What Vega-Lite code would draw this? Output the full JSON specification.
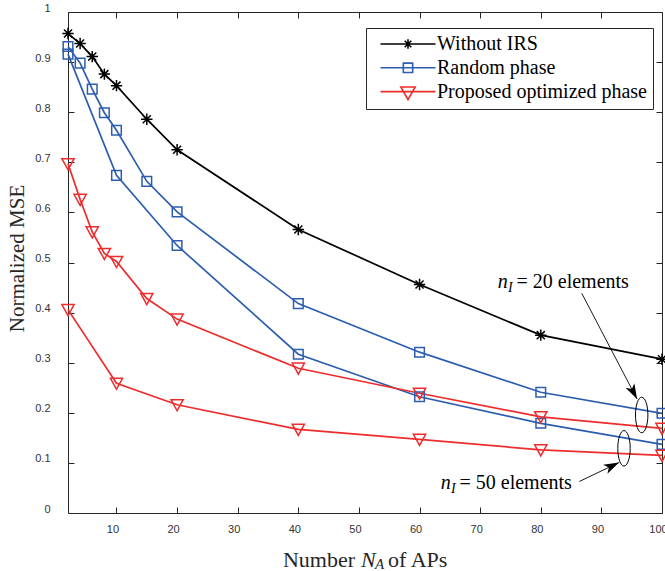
{
  "$schema": "https://vega.github.io/schema/vega-lite/v6.json",
  "width": 594,
  "height": 501,
  "autosize": {"type": "none"},
  "padding": {"left": 68, "top": 12, "right": 3, "bottom": 58},
  "background": "white",
  "config": {
    "view": {"stroke": "#262626", "strokeWidth": 1},
    "axis": {"grid": false, "domain": false}
  },
  "datasets": {
    "series": [
      {"method": "Without IRS", "n": "0", "x": 2, "y": 0.957},
      {"method": "Without IRS", "n": "0", "x": 4, "y": 0.937},
      {"method": "Without IRS", "n": "0", "x": 6, "y": 0.911},
      {"method": "Without IRS", "n": "0", "x": 8, "y": 0.876},
      {"method": "Without IRS", "n": "0", "x": 10, "y": 0.853},
      {"method": "Without IRS", "n": "0", "x": 15, "y": 0.786},
      {"method": "Without IRS", "n": "0", "x": 20, "y": 0.725},
      {"method": "Without IRS", "n": "0", "x": 40, "y": 0.566},
      {"method": "Without IRS", "n": "0", "x": 60, "y": 0.456},
      {"method": "Without IRS", "n": "0", "x": 80, "y": 0.355},
      {"method": "Without IRS", "n": "0", "x": 100, "y": 0.307},
      {"method": "Random phase", "n": "20", "x": 2, "y": 0.931},
      {"method": "Random phase", "n": "20", "x": 4, "y": 0.898},
      {"method": "Random phase", "n": "20", "x": 6, "y": 0.846},
      {"method": "Random phase", "n": "20", "x": 8, "y": 0.799},
      {"method": "Random phase", "n": "20", "x": 10, "y": 0.764},
      {"method": "Random phase", "n": "20", "x": 15, "y": 0.662},
      {"method": "Random phase", "n": "20", "x": 20, "y": 0.601},
      {"method": "Random phase", "n": "20", "x": 40, "y": 0.418},
      {"method": "Random phase", "n": "20", "x": 60, "y": 0.321},
      {"method": "Random phase", "n": "20", "x": 80, "y": 0.241},
      {"method": "Random phase", "n": "20", "x": 100, "y": 0.199},
      {"method": "Random phase", "n": "50", "x": 2, "y": 0.916},
      {"method": "Random phase", "n": "50", "x": 10, "y": 0.674},
      {"method": "Random phase", "n": "50", "x": 20, "y": 0.534},
      {"method": "Random phase", "n": "50", "x": 40, "y": 0.317},
      {"method": "Random phase", "n": "50", "x": 60, "y": 0.232},
      {"method": "Random phase", "n": "50", "x": 80, "y": 0.179},
      {"method": "Random phase", "n": "50", "x": 100, "y": 0.137},
      {"method": "Proposed optimized phase", "n": "20", "x": 2, "y": 0.697},
      {"method": "Proposed optimized phase", "n": "20", "x": 4, "y": 0.626},
      {"method": "Proposed optimized phase", "n": "20", "x": 6, "y": 0.561},
      {"method": "Proposed optimized phase", "n": "20", "x": 8, "y": 0.518},
      {"method": "Proposed optimized phase", "n": "20", "x": 10, "y": 0.502},
      {"method": "Proposed optimized phase", "n": "20", "x": 15, "y": 0.428},
      {"method": "Proposed optimized phase", "n": "20", "x": 20, "y": 0.387},
      {"method": "Proposed optimized phase", "n": "20", "x": 40, "y": 0.289},
      {"method": "Proposed optimized phase", "n": "20", "x": 60, "y": 0.239},
      {"method": "Proposed optimized phase", "n": "20", "x": 80, "y": 0.192},
      {"method": "Proposed optimized phase", "n": "20", "x": 100, "y": 0.169},
      {"method": "Proposed optimized phase", "n": "50", "x": 2, "y": 0.406},
      {"method": "Proposed optimized phase", "n": "50", "x": 10, "y": 0.259},
      {"method": "Proposed optimized phase", "n": "50", "x": 20, "y": 0.216},
      {"method": "Proposed optimized phase", "n": "50", "x": 40, "y": 0.167},
      {"method": "Proposed optimized phase", "n": "50", "x": 60, "y": 0.147},
      {"method": "Proposed optimized phase", "n": "50", "x": 80, "y": 0.126},
      {"method": "Proposed optimized phase", "n": "50", "x": 100, "y": 0.115}
    ],
    "ellipses": [
      {"group": "n20", "x": 96.65, "y": 0.1956},
      {"group": "n50", "x": 93.73, "y": 0.1291}
    ],
    "arrows": [
      {"id": "a20", "x": 86.76, "y": 0.4385, "x2": 95.88, "y2": 0.2275},
      {"id": "a50", "x": 86.36, "y": 0.0629, "x2": 92.91, "y2": 0.1008}
    ],
    "labels": [
      {"part": "n", "text": "n", "x": 72.9, "y": 0.4491},
      {"part": "sub", "text": "I", "x": 74.6, "y": 0.4411},
      {"part": "rest", "text": "= 20 elements", "x": 76.0, "y": 0.4491},
      {"part": "n", "text": "n", "x": 63.49, "y": 0.0473},
      {"part": "sub", "text": "I", "x": 65.19, "y": 0.0393},
      {"part": "rest", "text": "= 50 elements", "x": 66.59, "y": 0.0473},
      {"part": "xt", "text": "Number", "x": 49.35, "y": -0.1072},
      {"part": "xi", "text": "N", "x": 50.34, "y": -0.1072},
      {"part": "xs", "text": "A", "x": 52.65, "y": -0.1122},
      {"part": "xr", "text": "of APs", "x": 54.8, "y": -0.1072}
    ]
  },
  "layer": [
    {
      "data": {"name": "series"},
      "mark": {"type": "line", "strokeWidth": 1.7},
      "encoding": {
        "x": {"field": "x", "type": "quantitative", "scale": {"domain": [2, 100], "nice": false, "zero": false},
          "axis": {"orient": "bottom", "values": [10, 20, 30, 40, 50, 60, 70, 80, 90, 100], "title": null,
            "labelFont": "Liberation Sans", "labelFontSize": 11, "labelColor": "#333333", "tickSize": -6,
            "tickColor": "#262626", "tickWidth": 1, "labelPadding": 16, "labelOffset": -4, "labelFlush": false, "labelOverlap": false}},
        "y": {"field": "y", "type": "quantitative", "scale": {"domain": [0, 1], "nice": false, "zero": false},
          "axis": {"orient": "left", "values": [0, 0.1, 0.2, 0.3, 0.4, 0.5, 0.6, 0.7, 0.8, 0.9, 1], "format": "~g",
            "title": "Normalized MSE", "titleFont": "Liberation Serif", "titleFontSize": 21, "titleFontWeight": "normal",
            "titleColor": "#262626", "titleX": -45, "titleY": 246, "titleAngle": -90, "titleAlign": "center", "titleBaseline": "alphabetic",
            "labelFont": "Liberation Sans", "labelFontSize": 11, "labelColor": "#333333", "tickSize": -6,
            "tickColor": "#262626", "tickWidth": 1, "labelPadding": 24, "labelOffset": -4, "labelFlush": false, "labelOverlap": false}},
        "stroke": {"field": "method", "type": "nominal",
          "scale": {"domain": ["Without IRS", "Random phase", "Proposed optimized phase"], "range": ["#000000", "#2C5DAE", "#EE2C2C"]},
          "legend": null},
        "detail": {"field": "n"}
      }
    },
    {
      "data": {"name": "series"},
      "mark": {"type": "point", "filled": false, "size": 144, "strokeWidth": 1.5, "opacity": 1},
      "encoding": {
        "x": {"field": "x", "type": "quantitative",
          "axis": {"orient": "top", "values": [10, 20, 30, 40, 50, 60, 70, 80, 90, 100], "title": null, "labels": false,
            "tickSize": -6, "tickColor": "#262626", "tickWidth": 1}},
        "y": {"field": "y", "type": "quantitative",
          "axis": {"orient": "right", "values": [0, 0.1, 0.2, 0.3, 0.4, 0.5, 0.6, 0.7, 0.8, 0.9, 1], "title": null, "labels": false,
            "tickSize": -6, "tickColor": "#262626", "tickWidth": 1}},
        "stroke": {"field": "method", "type": "nominal",
          "scale": {"domain": ["Without IRS", "Random phase", "Proposed optimized phase"], "range": ["#000000", "#2C5DAE", "#EE2C2C"]},
          "legend": null},
        "shape": {"field": "method", "type": "nominal",
          "scale": {"domain": ["Without IRS", "Random phase", "Proposed optimized phase"],
            "range": ["M0,-0.95L0,0.95M-0.95,0L0.95,0M-0.67,-0.67L0.67,0.67M-0.67,0.67L0.67,-0.67",
                      "M-0.8,-0.8L0.8,-0.8L0.8,0.8L-0.8,0.8Z",
                      "M-1.02,-0.85L1.02,-0.85L0,1Z"]},
          "legend": null}
      }
    },
    {
      "data": {"name": "series"},
      "mark": {"type": "point", "filled": false, "size": 0, "strokeWidth": 1.6, "opacity": 1},
      "encoding": {
        "x": {"field": "x", "type": "quantitative", "axis": null},
        "y": {"field": "y", "type": "quantitative", "axis": null},
        "stroke": {"field": "method", "type": "nominal",
          "scale": {"domain": ["Without IRS", "Random phase", "Proposed optimized phase"], "range": ["#000000", "#2C5DAE", "#EE2C2C"]},
          "legend": {"orient": "none", "legendX": 298, "legendY": 16, "title": null, "padding": 6, "symbolSize": 121,
            "symbolStrokeWidth": 1.6, "symbolOffset": 26, "labelOffset": 19, "labelFont": "Liberation Serif", "labelFontSize": 20,
            "labelColor": "#000000", "labelLimit": 0, "rowPadding": 3.8, "strokeColor": "#262626", "fillColor": "#ffffff", "symbolOpacity": 1,
            "symbolFillColor": "transparent"}},
        "shape": {"field": "method", "type": "nominal",
          "scale": {"domain": ["Without IRS", "Random phase", "Proposed optimized phase"],
            "range": ["M-5,0L5,0M0,-0.85L0,0.85M-0.85,0L0.85,0M-0.6,-0.6L0.6,0.6M-0.6,0.6L0.6,-0.6",
                      "M-5,0L5,0M-0.85,-0.85L0.85,-0.85L0.85,0.85L-0.85,0.85Z",
                      "M-5,0L5,0M-1.3,-0.85L1.3,-0.85L0,1.45Z"]},
          "legend": {"orient": "none", "legendX": 298, "legendY": 16, "title": null, "padding": 6, "symbolSize": 121,
            "symbolStrokeWidth": 1.6, "symbolOffset": 26, "labelOffset": 19, "labelFont": "Liberation Serif", "labelFontSize": 20,
            "labelColor": "#000000", "labelLimit": 0, "rowPadding": 3.8, "strokeColor": "#262626", "fillColor": "#ffffff", "symbolOpacity": 1,
            "symbolFillColor": "transparent"}}
      }
    },
    {
      "data": {"name": "ellipses"},
      "mark": {"type": "point", "filled": false, "stroke": "#000000", "strokeWidth": 1, "opacity": 1, "size": 1260,
        "shape": "M0,-1C0.1933,-1 0.35,-0.5523 0.35,0C0.35,0.5523 0.1933,1 0,1C-0.1933,1 -0.35,0.5523 -0.35,0C-0.35,-0.5523 -0.1933,-1 0,-1Z"},
      "encoding": {
        "x": {"field": "x", "type": "quantitative", "axis": null},
        "y": {"field": "y", "type": "quantitative", "axis": null}
      }
    },
    {
      "data": {"name": "arrows"},
      "mark": {"type": "rule", "stroke": "#000000", "strokeWidth": 0.9},
      "encoding": {
        "x": {"field": "x", "type": "quantitative", "axis": null},
        "y": {"field": "y", "type": "quantitative", "axis": null},
        "x2": {"field": "x2"},
        "y2": {"field": "y2"}
      }
    },
    {
      "data": {"name": "arrows"},
      "transform": [{"filter": "datum.id === 'a20'"}],
      "mark": {"type": "point", "filled": true, "fill": "#000000", "stroke": null, "opacity": 1, "size": 324, "angle": 152.5,
        "shape": "M0,0L-0.55,1.7L0,1.25L0.55,1.7Z"},
      "encoding": {
        "x": {"field": "x2", "type": "quantitative", "axis": null},
        "y": {"field": "y2", "type": "quantitative", "axis": null}
      }
    },
    {
      "data": {"name": "arrows"},
      "transform": [{"filter": "datum.id === 'a50'"}],
      "mark": {"type": "point", "filled": true, "fill": "#000000", "stroke": null, "opacity": 1, "size": 324, "angle": 64.1,
        "shape": "M0,0L-0.55,1.7L0,1.25L0.55,1.7Z"},
      "encoding": {
        "x": {"field": "x2", "type": "quantitative", "axis": null},
        "y": {"field": "y2", "type": "quantitative", "axis": null}
      }
    },
    {
      "data": {"name": "labels"},
      "transform": [{"filter": "datum.part === 'n'"}],
      "mark": {"type": "text", "align": "left", "baseline": "alphabetic", "font": "Liberation Serif", "fontSize": 20, "fontStyle": "italic", "color": "#000000"},
      "encoding": {
        "x": {"field": "x", "type": "quantitative", "axis": null},
        "y": {"field": "y", "type": "quantitative", "axis": null},
        "text": {"field": "text"}
      }
    },
    {
      "data": {"name": "labels"},
      "transform": [{"filter": "datum.part === 'sub'"}],
      "mark": {"type": "text", "align": "left", "baseline": "alphabetic", "font": "Liberation Serif", "fontSize": 14, "fontStyle": "italic", "color": "#000000"},
      "encoding": {
        "x": {"field": "x", "type": "quantitative", "axis": null},
        "y": {"field": "y", "type": "quantitative", "axis": null},
        "text": {"field": "text"}
      }
    },
    {
      "data": {"name": "labels"},
      "transform": [{"filter": "datum.part === 'rest'"}],
      "mark": {"type": "text", "align": "left", "baseline": "alphabetic", "font": "Liberation Serif", "fontSize": 20, "color": "#000000"},
      "encoding": {
        "x": {"field": "x", "type": "quantitative", "axis": null},
        "y": {"field": "y", "type": "quantitative", "axis": null},
        "text": {"field": "text"}
      }
    },
    {
      "data": {"name": "labels"},
      "transform": [{"filter": "datum.part === 'xt'"}],
      "mark": {"type": "text", "align": "right", "baseline": "alphabetic", "font": "Liberation Serif", "fontSize": 22, "color": "#262626"},
      "encoding": {
        "x": {"field": "x", "type": "quantitative", "axis": null},
        "y": {"field": "y", "type": "quantitative", "axis": null},
        "text": {"field": "text"}
      }
    },
    {
      "data": {"name": "labels"},
      "transform": [{"filter": "datum.part === 'xi'"}],
      "mark": {"type": "text", "align": "left", "baseline": "alphabetic", "font": "Liberation Serif", "fontSize": 22, "fontStyle": "italic", "color": "#262626"},
      "encoding": {
        "x": {"field": "x", "type": "quantitative", "axis": null},
        "y": {"field": "y", "type": "quantitative", "axis": null},
        "text": {"field": "text"}
      }
    },
    {
      "data": {"name": "labels"},
      "transform": [{"filter": "datum.part === 'xs'"}],
      "mark": {"type": "text", "align": "left", "baseline": "alphabetic", "font": "Liberation Serif", "fontSize": 15, "fontStyle": "italic", "color": "#262626"},
      "encoding": {
        "x": {"field": "x", "type": "quantitative", "axis": null},
        "y": {"field": "y", "type": "quantitative", "axis": null},
        "text": {"field": "text"}
      }
    },
    {
      "data": {"name": "labels"},
      "transform": [{"filter": "datum.part === 'xr'"}],
      "mark": {"type": "text", "align": "left", "baseline": "alphabetic", "font": "Liberation Serif", "fontSize": 22, "color": "#262626"},
      "encoding": {
        "x": {"field": "x", "type": "quantitative", "axis": null},
        "y": {"field": "y", "type": "quantitative", "axis": null},
        "text": {"field": "text"}
      }
    }
  ],
  "resolve": {"scale": {"shape": "independent", "stroke": "independent"}, "legend": {"shape": "independent", "stroke": "independent"}}
}
